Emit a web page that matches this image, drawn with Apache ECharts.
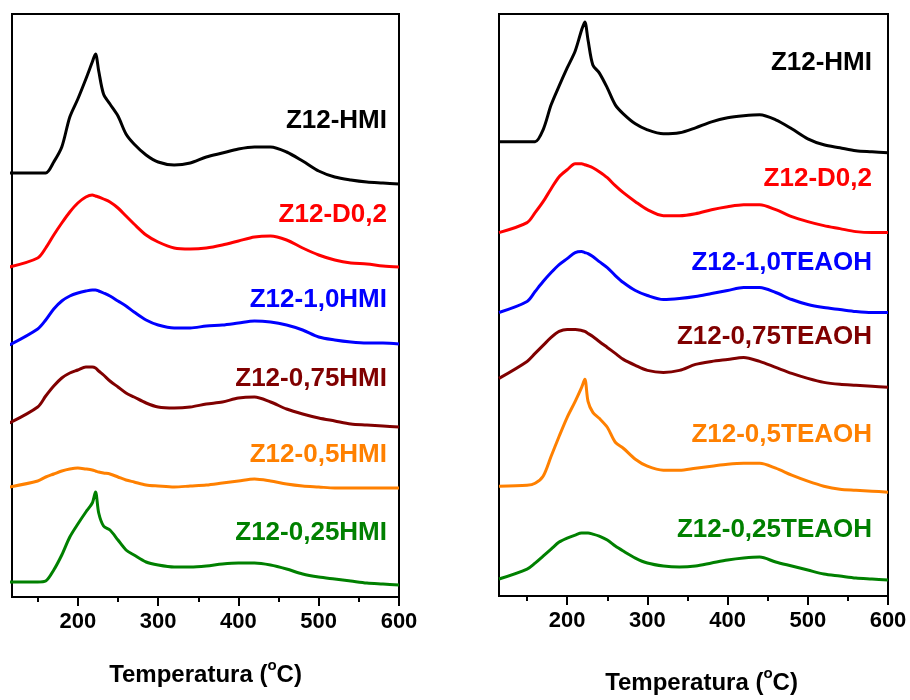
<!DOCTYPE html>
<html>
<head>
<meta charset="utf-8">
<script src="https://cdn.jsdelivr.net/npm/echarts@6/dist/echarts.min.js"></script>
<style>
  html, body { margin: 0; padding: 0; background: #fff; }
  #main { width: 910px; height: 700px; }
</style>
</head>
<body>
<div id="main"></div>
<script>
// temperature grid (°C) shared by every curve
var temps = [115, 150, 160, 170, 180, 190, 200, 210, 218, 222, 226, 232, 240, 250, 260, 270, 285,
             300, 320, 340, 360, 380, 400, 420, 440, 460, 480, 500, 520, 540, 560, 580, 600];

// left panel (HMI series), stacked intensities in a.u.
var hmiZ12      = [424,424,424,435,450,480,498,518,535,543,526,503,493,481,463,453,442,435,432,434,440,444,448,450,450,445,436,426,420,417,415,414,413];
var hmiD02      = [330,339,349,362,374,385,394,400,402,401,400,398,395,389,381,373,362,355,349,348,349,352,356,360,361,357,349,342,337,334,333,331,330];
var hmi10       = [252,268,277,288,296,301,304,306,307,307,306,304,301,296,291,285,277,272,269,269,271,272,274,276,275,272,267,260,257,255,254,254,253];
var hmi075      = [174,190,201,211,219,224,227,230,230,229,226,222,216,210,204,200,194,190,189,190,193,195,199,200,195,188,183,179,176,173,172,171,170];
var hmi05       = [110,116,120,123,126,128,129,128,127,126,125,124,123,120,117,115,112,111,110,111,112,114,116,118,116,113,111,110,109,109,109,109,109];
var hmi025      = [15,15,16,27,42,60,73,85,94,105,84,71,67,57,47,42,35,32,30,30,31,33,34,34,32,28,23,20,18,16,14,13,12];

// right panel (TEAOH series)
var teaZ12      = [455,455,455,467,492,511,529,546,567,575,557,532,524,509,492,483,473,467,463,464,469,475,479,481,482,477,468,458,452,449,446,445,444];
var teaD02      = [364,374,384,395,408,420,427,433,433,432,431,429,425,419,411,404,395,387,381,381,383,387,390,392,392,387,380,375,371,368,365,364,364];
var tea10       = [284,295,305,315,324,332,338,344,345,344,343,340,335,329,321,314,306,301,297,298,300,303,306,309,309,304,297,292,289,287,285,284,284];
var tea075      = [218,235,243,251,259,265,267,267,266,265,263,260,255,249,243,237,231,226,224,226,232,235,237,239,235,229,223,218,214,212,211,210,209];
var tea05       = [110,111,113,120,140,160,179,195,209,217,195,184,178,169,154,148,137,130,126,126,128,130,132,133,133,128,121,115,110,107,106,105,104];
var tea025      = [17,27,33,40,47,54,58,61,63,63,63,62,60,56,50,45,38,33,30,29,30,33,36,38,39,34,30,26,22,20,18,17,16];

var leftNames  = ['Z12-HMI', 'Z12-D0,2', 'Z12-1,0HMI', 'Z12-0,75HMI', 'Z12-0,5HMI', 'Z12-0,25HMI'];
var rightNames = ['Z12-HMI', 'Z12-D0,2', 'Z12-1,0TEAOH', 'Z12-0,75TEAOH', 'Z12-0,5TEAOH', 'Z12-0,25TEAOH'];
var colors = ['#000000', '#ff0000', '#0000ff', '#800000', '#ff8000', '#008000'];
var majorTicks = [200, 300, 400, 500, 600];
var minorTicks = [150, 250, 350, 450, 550];

var leftData  = [hmiZ12, hmiD02, hmi10, hmi075, hmi05, hmi025];
var rightData = [teaZ12, teaD02, tea10, tea075, tea05, tea025];

var FONT = 'Arial, "Liberation Sans", sans-serif';
var chart = echarts.init(document.getElementById('main'));

function pairs(vals) {
  return temps.map(function (t, i) { return [t, vals[i]]; });
}

function xAxes(grid, min, gap, pad) {
  return [{
    gridIndex: grid, type: 'value', min: min, max: 600, position: 'bottom',
    axisLine: { show: false }, splitLine: { show: false },
    axisTick: { customValues: majorTicks, length: 9, lineStyle: { color: '#000', width: 2 } },
    axisLabel: { customValues: majorTicks, margin: 14, color: '#000', fontSize: 22, fontWeight: 'bold', fontFamily: FONT },
    name: '{a|Temperatura (}{s|o}{a|C)}',
    nameLocation: 'middle', nameGap: gap,
    nameTextStyle: {
      padding: [0, 0, 0, pad],
      rich: {
        a: { fontSize: 24, fontWeight: 'bold', fontFamily: FONT, color: '#000', lineHeight: 34 },
        s: { fontSize: 15, fontWeight: 'bold', fontFamily: FONT, color: '#000', verticalAlign: 'top', lineHeight: 10 }
      }
    }
  }, {
    gridIndex: grid, type: 'value', min: min, max: 600, position: 'bottom',
    axisLine: { show: false }, splitLine: { show: false },
    axisTick: { customValues: minorTicks, length: 5, lineStyle: { color: '#000', width: 2 } },
    axisLabel: { show: false }
  }];
}

var series = [];
leftData.forEach(function (d, i) {
  series.push({ type: 'line', name: leftNames[i], xAxisIndex: 0, yAxisIndex: 0, data: pairs(d),
    showSymbol: false, smooth: 0.3, lineStyle: { color: colors[i], width: 3 }, itemStyle: { color: colors[i] } });
});
rightData.forEach(function (d, i) {
  series.push({ type: 'line', name: rightNames[i], xAxisIndex: 2, yAxisIndex: 1, data: pairs(d),
    showSymbol: false, smooth: 0.3, lineStyle: { color: colors[i], width: 3 }, itemStyle: { color: colors[i] } });
});

var leftLabelY  = [121, 215, 300, 379, 455, 533];
var rightLabelY = [63, 179, 263, 337, 435, 530];
var graphics = [];
leftNames.forEach(function (n, i) {
  graphics.push({ type: 'text', x: 387, y: leftLabelY[i],
    style: { text: n, fill: colors[i], font: 'bold 26px ' + FONT, textAlign: 'right', textVerticalAlign: 'middle' } });
});
rightNames.forEach(function (n, i) {
  graphics.push({ type: 'text', x: 872, y: rightLabelY[i],
    style: { text: n, fill: colors[i], font: 'bold 26px ' + FONT, textAlign: 'right', textVerticalAlign: 'middle' } });
});

var option = {
  animation: false,
  backgroundColor: '#fff',
  grid: [
    { left: 12, top: 14, width: 387, height: 583, show: true, borderColor: '#000', borderWidth: 2, backgroundColor: 'transparent' },
    { left: 499, top: 14, width: 389, height: 583, show: true, borderColor: '#000', borderWidth: 2, backgroundColor: 'transparent' }
  ],
  xAxis: xAxes(0, 118, 61, 0).concat(xAxes(1, 115, 70, 16)),
  yAxis: [
    { gridIndex: 0, type: 'value', min: 0, max: 583, show: false },
    { gridIndex: 1, type: 'value', min: 0, max: 583, show: false }
  ],
  series: series,
  graphic: graphics
};

chart.setOption(option);
</script>
</body>
</html>
